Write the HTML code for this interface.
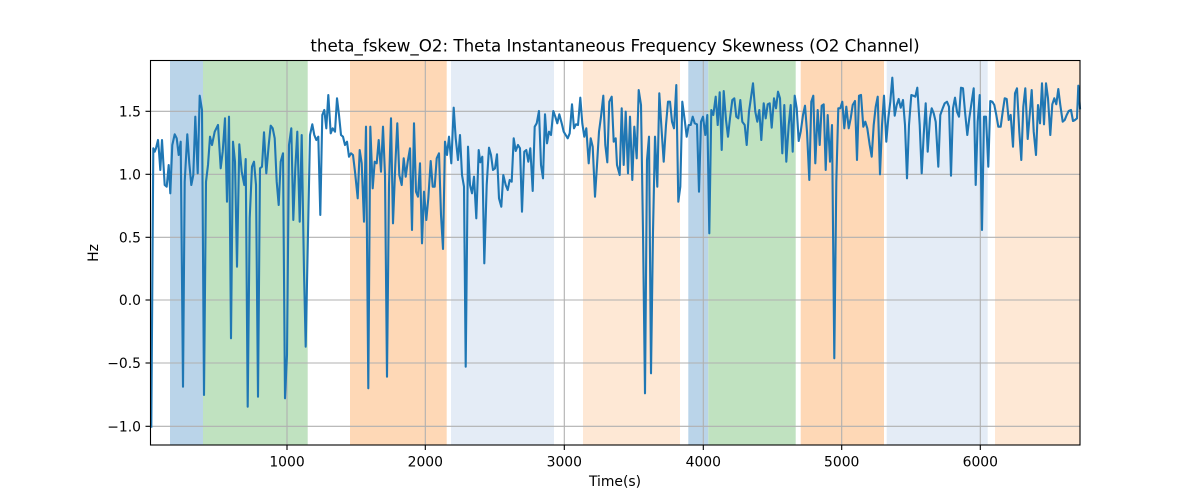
<!DOCTYPE html>
<html><head><meta charset="utf-8"><style>
html,body{margin:0;padding:0;background:#fff;}
svg{display:block;}
text{font-family:"DejaVu Sans","Liberation Sans",sans-serif;fill:#000;}
</style></head><body>
<svg width="1200" height="500" viewBox="0 0 1200 500" xmlns="http://www.w3.org/2000/svg">
<rect x="0" y="0" width="1200" height="500" fill="#fff"/>
<!-- bands -->
<g>
<rect x="170" y="60.5" width="33" height="384.5" fill="#bad4e9"/>
<rect x="203" y="60.5" width="104.7" height="384.5" fill="#c0e2c0"/>
<rect x="350" y="60.5" width="96.7" height="384.5" fill="#fed8b6"/>
<rect x="451" y="60.5" width="103" height="384.5" fill="#e4ecf6"/>
<rect x="583" y="60.5" width="97" height="384.5" fill="#fee8d5"/>
<rect x="688.3" y="60.5" width="20" height="384.5" fill="#bad4e9"/>
<rect x="708.3" y="60.5" width="87.4" height="384.5" fill="#c0e2c0"/>
<rect x="800.7" y="60.5" width="83.3" height="384.5" fill="#fed8b6"/>
<rect x="886.7" y="60.5" width="101" height="384.5" fill="#e4ecf6"/>
<rect x="995" y="60.5" width="85" height="384.5" fill="#fee8d5"/>
</g>
<!-- grid -->
<g stroke="#b0b0b0" stroke-width="1.1">
<line x1="287" y1="60.5" x2="287" y2="445"/>
<line x1="425.3" y1="60.5" x2="425.3" y2="445"/>
<line x1="564.3" y1="60.5" x2="564.3" y2="445"/>
<line x1="703.3" y1="60.5" x2="703.3" y2="445"/>
<line x1="841.7" y1="60.5" x2="841.7" y2="445"/>
<line x1="980.3" y1="60.5" x2="980.3" y2="445"/>
<line x1="150.5" y1="111.3" x2="1080" y2="111.3"/>
<line x1="150.5" y1="174.3" x2="1080" y2="174.3"/>
<line x1="150.5" y1="237.3" x2="1080" y2="237.3"/>
<line x1="150.5" y1="300" x2="1080" y2="300"/>
<line x1="150.5" y1="363" x2="1080" y2="363"/>
<line x1="150.5" y1="426.3" x2="1080" y2="426.3"/>
</g>
<!-- data -->
<polyline fill="none" stroke="#1f77b4" stroke-width="2.1" stroke-linejoin="round" stroke-linecap="square" points="
151.3,426.7 153.3,148.3 154.7,151.7 156.0,148.3 158.0,140.0 159.0,151.7 160.3,170.0 162.0,140.0 163.3,161.7 164.7,185.0 166.7,186.7 168.7,165.0 170.3,193.3 172.3,145.0 174.7,134.3 176.7,138.3 178.7,155.0 180.7,141.7 183.0,386.7 184.7,181.7 187.3,134.3 189.3,163.3 191.3,185.0 193.3,175.0 195.3,116.7 197.7,173.3 199.7,95.7 202.0,110.0 204.0,395.0 206.0,181.7 208.0,165.0 210.0,136.7 212.0,145.0 214.7,131.7 218.0,125.0 220.7,168.3 222.7,151.7 225.0,118.3 227.0,201.7 229.0,116.7 231.0,338.3 233.0,141.7 235.0,161.7 237.0,266.7 239.3,144.3 241.7,171.7 244.3,185.0 245.7,159.0 247.7,406.7 249.7,218.3 252.0,166.7 254.0,161.7 256.0,185.0 258.0,396.7 260.0,168.3 262.0,166.7 264.0,132.3 266.3,173.3 268.7,145.0 270.7,125.7 272.7,128.3 274.7,138.3 276.7,181.7 278.7,205.0 280.7,161.7 283.0,153.3 285.0,398.3 287.0,355.0 289.0,145.0 291.3,128.3 293.3,220.0 295.3,168.3 297.3,131.7 299.7,221.7 301.7,135.0 304.0,271.7
305.7,346.7 310.0,135.0 312.3,124.3 314.3,135.0 316.3,140.0 318.3,136.7 320.3,215.0 322.3,115.0 324.3,110.0 326.3,128.3 328.3,95.0 330.7,133.3 332.7,128.3 335.0,131.7 337.0,98.3 339.0,115.0 341.0,135.0 343.0,136.7 345.0,145.0 347.0,141.7 349.0,156.7 351.0,153.3 353.0,155.0 355.0,171.7 357.7,198.3 359.7,150.0 361.7,163.3 364.0,221.7 366.0,126.7 368.3,388.3 370.3,126.7 372.7,188.3 374.7,161.7 376.7,163.3 378.7,140.0 381.0,171.7 383.0,126.7 385.0,175.0 387.0,376.7 389.0,185.0 391.0,118.3 393.0,223.3 395.3,165.0 397.3,123.3 399.3,175.0 401.7,185.0 403.7,158.3 405.7,176.7 407.7,161.7 410.0,148.3 412.0,230.0 414.0,123.3 416.0,191.7 418.0,196.7 420.0,163.3 422.0,243.3 424.0,191.7 426.3,220.0 428.3,198.3 430.7,161.0 432.7,186.7 434.7,186.7 436.7,158.3 439.0,153.3 441.0,215.0 443.0,249.0 445.0,141.7 447.0,155.0 449.0,136.7 451.3,163.3 453.7,107.7 455.7,138.3 458.0,160.0 460.0,135.0
462.0,175.0 464.0,186.7 465.7,366.7 468.0,146.7 470.0,185.0 472.0,193.3 474.0,176.7 476.3,218.3 478.7,150.0 480.3,162.3 482.3,156.7 484.3,263.3 486.7,185.0 489.0,147.7 491.0,155.0 493.0,170.0 495.0,168.3 497.0,154.3 499.0,198.3 501.3,206.7 503.3,175.0 505.7,185.0 507.7,190.0 509.7,180.0 511.7,181.7 513.7,138.3 515.7,151.0 518.0,145.0 520.0,148.3 522.0,211.7 524.3,151.7 526.3,150.0 528.3,161.7 530.3,148.3 532.7,191.0 534.7,126.7 536.7,123.3 539.0,111.0 541.0,165.0 543.0,178.3 545.0,114.3 547.0,143.3 549.0,131.7 551.0,135.0 553.3,111.0 555.3,116.7 557.3,123.3 559.3,114.3 561.7,123.3 563.7,131.7 565.7,135.0 567.7,138.3 569.7,133.3 572.0,104.3 574.0,128.3 576.0,124.3 578.0,125.0 580.3,97.7 582.3,123.3 584.3,136.7 586.3,128.3 588.7,163.3 590.7,138.3 592.7,146.7 595.0,196.7 597.0,165.0 599.0,131.7 601.0,116.7 603.3,95.7 605.3,145.0 607.3,162.3 609.3,101.7 611.7,96.7 613.7,141.7 615.7,138.3
617.0,165.0 619.7,175.0 621.7,108.3 623.7,165.0 625.7,111.7 628.0,173.3 630.0,116.7 632.3,180.0 634.3,126.7 636.7,158.3 638.7,90.0 641.0,105.0 643.0,231.7 645.0,393.3 647.0,160.0 649.0,136.7 651.0,373.3 653.0,231.7 655.0,136.7 657.3,186.7 659.3,93.3 661.7,131.7 663.7,161.7 666.0,125.0 668.0,101.7 670.0,101.7 672.0,121.7 674.0,128.3 676.3,85.0 678.3,201.7 680.3,186.7 682.3,101.7 684.7,120.0 686.7,136.7 688.7,125.0 690.7,125.0 692.7,116.7 694.7,123.3 697.0,124.3 699.0,191.7 701.0,121.7 703.0,116.7 705.3,135.0 707.3,115.0 709.3,233.3 711.3,110.0 713.3,115.0 715.7,96.7 717.7,125.0 719.7,92.3 721.7,150.0 723.7,91.0 726.0,120.0 728.0,136.7 730.0,118.3 732.3,100.0 734.3,98.3 736.3,116.7 738.3,118.3 740.3,100.0 742.3,121.7 744.7,125.0 746.7,145.0 749.0,111.7 753.0,83.3 755.3,111.7 757.3,121.7 759.3,110.0 761.3,140.0 763.7,103.3 765.7,118.3 767.7,104.3 769.7,103.3 771.7,127.7 774.0,98.3 776.0,108.3
778.0,91.7 780.0,98.3 782.3,153.3 784.3,105.0 786.3,161.7 788.7,125.0 790.7,105.0 792.7,151.7 794.7,95.7 796.7,108.3 798.7,141.0 800.7,131.7 803.0,115.0 805.0,105.7 807.0,131.7 809.3,180.0 811.3,101.7 813.3,95.7 815.3,163.3 817.7,110.0 819.7,145.0 821.7,105.7 823.7,104.3 825.7,170.0 827.7,115.0 830.0,161.7 832.0,125.0 834.3,358.3 836.3,181.7 838.3,108.3 840.3,108.3 842.3,101.7 844.3,128.3 846.3,106.7 848.7,128.3 850.7,118.3 852.7,105.0 855.0,101.0 857.0,160.0 859.0,95.7 861.0,95.0 863.3,126.7 865.3,121.7 867.3,128.3 869.7,145.0 871.7,156.7 873.7,125.0 875.7,106.7 877.7,96.7 880.0,174.3 882.0,125.0 884.0,95.7 886.3,141.7 888.3,118.3 890.3,101.7 892.3,77.7 894.7,115.7 896.7,105.0 898.7,99.0 900.7,107.7 903.0,100.0 905.0,125.0 907.0,178.3 909.0,125.0 911.3,95.0 913.3,95.7 915.3,96.7 917.3,87.7 919.7,125.0 921.7,173.3 923.7,135.0 925.7,103.3 927.7,151.7 930.0,118.3
931.7,108.3 933.7,113.3 935.7,121.7 938.3,166.7 940.3,115.0 942.7,108.3 944.7,103.3 947.0,101.7 949.0,106.7 951.0,175.7 953.0,108.3 955.0,97.7 957.0,111.7 959.0,116.7 961.0,87.7 963.0,88.3 965.0,111.7 967.3,135.0 969.3,118.3 971.7,101.7 973.7,88.3 975.7,185.0 977.7,121.7 979.7,95.0 982.0,230.0 984.0,116.7 986.0,116.7 988.3,166.7 990.3,101.0 992.3,101.7 994.3,105.0 996.3,115.0 998.3,126.7 1000.7,126.7 1002.7,111.7 1004.7,98.3 1006.7,99.0 1008.7,120.0 1010.7,115.0 1013.0,146.7 1015.0,93.3 1017.0,88.3 1019.3,131.7 1021.3,160.0 1023.3,106.7 1025.3,88.3 1027.7,139.0 1029.7,115.0 1031.7,90.0 1033.7,131.7 1036.0,155.0 1038.0,105.0 1040.0,123.3 1042.0,83.3 1044.0,124.3 1046.0,83.3 1048.0,98.3 1050.3,135.0 1052.3,104.3 1054.3,98.3 1056.3,104.3 1058.3,89.0 1060.3,105.0 1062.7,121.7 1064.7,120.0 1066.7,115.0 1068.7,111.0 1071.0,110.0 1073.0,121.0 1075.0,120.0 1077.0,118.3 1078.3,85.7 1080.0,108.3"/>
<!-- spines -->
<rect x="150.5" y="60.5" width="929.5" height="384.5" fill="none" stroke="#000" stroke-width="1.1"/>
<!-- ticks -->
<g stroke="#000" stroke-width="1.1">
<line x1="287" y1="445" x2="287" y2="450"/>
<line x1="425.3" y1="445" x2="425.3" y2="450"/>
<line x1="564.3" y1="445" x2="564.3" y2="450"/>
<line x1="703.3" y1="445" x2="703.3" y2="450"/>
<line x1="841.7" y1="445" x2="841.7" y2="450"/>
<line x1="980.3" y1="445" x2="980.3" y2="450"/>
<line x1="145.5" y1="111.3" x2="150.5" y2="111.3"/>
<line x1="145.5" y1="174.3" x2="150.5" y2="174.3"/>
<line x1="145.5" y1="237.3" x2="150.5" y2="237.3"/>
<line x1="145.5" y1="300" x2="150.5" y2="300"/>
<line x1="145.5" y1="363" x2="150.5" y2="363"/>
<line x1="145.5" y1="426.3" x2="150.5" y2="426.3"/>
</g>
<g font-size="13.9" text-anchor="middle">
<text x="287" y="466.5">1000</text>
<text x="425.3" y="466.5">2000</text>
<text x="564.3" y="466.5">3000</text>
<text x="703.3" y="466.5">4000</text>
<text x="841.7" y="466.5">5000</text>
<text x="980.3" y="466.5">6000</text>
</g>
<g font-size="13.9" text-anchor="end">
<text x="141" y="116.3">1.5</text>
<text x="141" y="179.3">1.0</text>
<text x="141" y="242.3">0.5</text>
<text x="141" y="305">0.0</text>
<text x="141" y="368">−0.5</text>
<text x="141" y="431.3">−1.0</text>
</g>
<text x="615" y="486" font-size="13.9" text-anchor="middle">Time(s)</text>
<text x="98" y="253" font-size="13.9" text-anchor="middle" transform="rotate(-90 98 253)">Hz</text>
<text x="615" y="51.5" font-size="16.7" text-anchor="middle">theta_fskew_O2: Theta Instantaneous Frequency Skewness (O2 Channel)</text>
</svg>
</body></html>
